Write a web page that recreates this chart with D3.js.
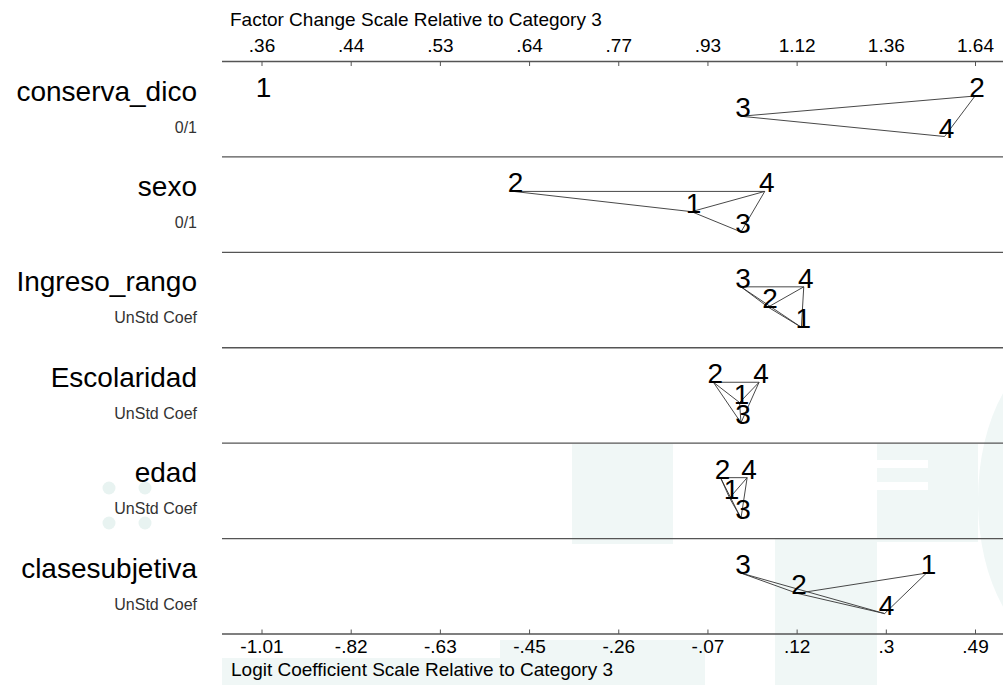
<!DOCTYPE html>
<html>
<head>
<meta charset="utf-8">
<script src="https://cdn.jsdelivr.net/npm/d3@7"></script>
<style>
    body { margin: 0; background: #fff; }
    text { font-family: "Liberation Sans", Arial, sans-serif; }
</style>
</head>
<body>
<div id="chart"></div>
<script>
// variables (rows) and their unit labels
const variables = ["conserva_dico", "sexo", "Ingreso_rango", "Escolaridad", "edad", "clasesubjetiva"];
const units = ["0/1", "0/1", "UnStd Coef", "UnStd Coef", "UnStd Coef", "UnStd Coef"];
const categories = ["1", "2", "3", "4"];

// logit coefficients relative to category 3, one per category (1,2,3,4)
const coefConserva = [-1.008, 0.492, 0, 0.428];
const coefSexo = [-0.104, -0.478, 0, 0.050];
const coefIngreso = [0.127, 0.057, 0, 0.132];
const coefEscolaridad = [-0.003, -0.058, 0, 0.038];
const coefEdad = [-0.024, -0.043, 0, 0.013];
const coefClase = [0.390, 0.118, 0, 0.302];
const coefs = [coefConserva, coefSexo, coefIngreso, coefEscolaridad, coefEdad, coefClase];

// pairs of categories joined by a line (not significantly different)
const allPairs = [[1, 2], [1, 3], [1, 4], [2, 3], [2, 4], [3, 4]];
const links = [
    [[3, 2], [3, 4], [2, 4]],
    [[2, 4], [2, 1], [1, 4], [1, 3], [3, 4]],
    allPairs,
    allPairs,
    allPairs,
    [[3, 2], [3, 4], [2, 1], [2, 4], [1, 4]]
];

// axis ticks
const logitTicks = [-1.008, -0.8205, -0.633, -0.4455, -0.258, -0.0705, 0.117, 0.3045, 0.492];
const logitTickLabels = ["-1.01", "-.82", "-.63", "-.45", "-.26", "-.07", ".12", ".3", ".49"];
const factorTickLabels = [".36", ".44", ".53", ".64", ".77", ".93", "1.12", "1.36", "1.64"];

const width = 1003, height = 685;
const margin = {top: 61.5, bottom: 51, left: 222, right: 0};

const svg = d3.select("#chart").append("svg")
    .attr("width", width)
    .attr("height", height);

// faint watermark in the background
let wm = svg.append("g").attr("fill", "#f0f7f6");
wm.append("rect").attr("x", 572).attr("y", 444).attr("width", 101).attr("height", 100);
wm.append("rect").attr("x", 877).attr("y", 444).attr("width", 101).attr("height", 98);
wm.append("rect").attr("x", 775).attr("y", 539).attr("width", 102).attr("height", 146);
wm.append("rect").attr("x", 222).attr("y", 658).attr("width", 480).attr("height", 27);
wm.append("rect").attr("x", 500).attr("y", 640).attr("width", 205).attr("height", 45);
wm.append("ellipse").attr("cx", 1062).attr("cy", 500).attr("rx", 84).attr("ry", 150);
wm.append("rect").attr("x", 877).attr("y", 460).attr("width", 51).attr("height", 8).attr("fill", "#fff");
wm.append("rect").attr("x", 877).attr("y", 482).attr("width", 51).attr("height", 8).attr("fill", "#fff");
[[109, 488], [145, 488], [109, 523], [145, 523]].forEach(function (p) {
    wm.append("circle").attr("cx", p[0]).attr("cy", p[1]).attr("r", 6.5).attr("fill", "#e8f3f1");
});

// scales
let x = d3.scaleLinear()
    .domain([logitTicks[0], logitTicks[logitTicks.length - 1]])
    .range([261.5, 975]);

let yBand = d3.scaleBand()
    .domain(variables)
    .range([margin.top, height - margin.bottom])
    .padding(0);

let level = d3.scaleLinear().domain([1, 3]).range([34.5, 75]);

// axes
let axisColor = "#555";
let topAxis = d3.axisTop(x)
    .tickValues(logitTicks)
    .tickFormat((d, i) => factorTickLabels[i])
    .tickSizeInner(-4.5)
    .tickSizeOuter(0)
    .tickPadding(9.5);

let bottomAxis = d3.axisBottom(x)
    .tickValues(logitTicks)
    .tickFormat((d, i) => logitTickLabels[i])
    .tickSizeInner(-4.5)
    .tickSizeOuter(0)
    .tickPadding(6);

let gTop = svg.append("g")
    .attr("transform", "translate(0," + margin.top + ")")
    .call(topAxis);
let gBottom = svg.append("g")
    .attr("transform", "translate(0," + (height - margin.bottom) + ")")
    .call(bottomAxis);

[gTop, gBottom].forEach(function (g) {
    g.select(".domain").remove();
    g.selectAll(".tick line").attr("stroke", axisColor);
    g.selectAll(".tick text")
        .attr("fill", "#000")
        .style("font-size", "19px")
        .style("font-family", "'Liberation Sans', Arial, sans-serif");
});

svg.append("text")
    .attr("x", 230)
    .attr("y", 26)
    .style("font-size", "19px")
    .text("Factor Change Scale Relative to Category 3");

svg.append("text")
    .attr("x", 231)
    .attr("y", 676)
    .style("font-size", "19px")
    .text("Logit Coefficient Scale Relative to Category 3");

// horizontal rules: top axis, separators, bottom axis
let rules = variables.map(v => yBand(v)).concat([height - margin.bottom]);
svg.selectAll(".rule")
    .data(rules)
    .enter()
    .append("line")
    .attr("class", "rule")
    .attr("x1", margin.left)
    .attr("x2", width)
    .attr("y1", d => d)
    .attr("y2", d => d)
    .attr("stroke", axisColor)
    .attr("stroke-width", 1.3);

// one panel per variable
variables.forEach(function (v, vi) {
    let top = yBand(v);
    let g = svg.append("g").attr("transform", "translate(0," + top + ")");

    g.append("text")
        .attr("x", 197)
        .attr("y", 39)
        .attr("text-anchor", "end")
        .style("font-size", "28px")
        .text(v);

    g.append("text")
        .attr("x", 197)
        .attr("y", 71)
        .attr("text-anchor", "end")
        .attr("fill", "#333")
        .style("font-size", "16px")
        .text(units[vi]);

    // vertical level: outermost categories on top, inner ones stepped down
    let order = categories.map((c, i) => i).sort((a, b) => coefs[vi][a] - coefs[vi][b]);
    let lev = [];
    order.forEach(function (ci, rank) {
        lev[ci] = (rank === 0 || rank === 3) ? 1 : rank + 1;
    });

    let pts = categories.map((c, i) => ({
        cat: c,
        x: x(coefs[vi][i]),
        y: level(lev[i])
    }));

    g.selectAll(".link")
        .data(links[vi])
        .enter()
        .append("line")
        .attr("class", "link")
        .attr("x1", d => pts[d[0] - 1].x)
        .attr("y1", d => pts[d[0] - 1].y)
        .attr("x2", d => pts[d[1] - 1].x)
        .attr("y2", d => pts[d[1] - 1].y)
        .attr("stroke", "#333")
        .attr("stroke-width", 0.9);

    g.selectAll(".cat")
        .data(pts)
        .enter()
        .append("text")
        .attr("class", "cat")
        .attr("x", d => d.x + 2)
        .attr("y", d => d.y + 1)
        .attr("text-anchor", "middle")
        .style("font-size", "28px")
        .text(d => d.cat);
});
</script>
</body>
</html>
